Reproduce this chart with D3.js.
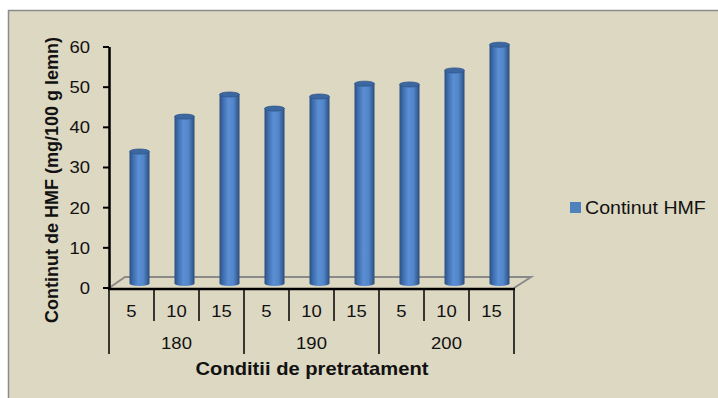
<!DOCTYPE html>
<html>
<head>
<meta charset="utf-8">
<script src="https://cdn.jsdelivr.net/npm/d3@7/dist/d3.min.js"></script>
<style>
  html, body { margin: 0; padding: 0; background: #ffffff; }
  svg { display: block; }
  text { font-family: "Liberation Sans", Arial, sans-serif; fill: #111; }
</style>
</head>
<body>
<svg id="chart" width="718" height="398"></svg>
<script>
// HMF content by pretreatment temperature and time
const temperatures = ["180", "190", "200"];
const times = ["5", "10", "15"];
const hmfValues = [32.6, 41.3, 46.8, 43.3, 46.3, 49.5, 49.3, 52.8, 59.2];
const yTicks = [0, 10, 20, 30, 40, 50, 60];
const seriesName = "Continut HMF";
const yTitle = "Continut de HMF (mg/100 g lemn)";
const xTitle = "Conditii de pretratament";

const categories = [];
temperatures.forEach(t => times.forEach(m => categories.push({ temp: t, time: m })));

const svg = d3.select("#chart");
const W = 718, H = 398;
const sx = 1.12; // horizontal text stretch

// chart area background
svg.append("rect").attr("x", 8).attr("y", 10).attr("width", W - 8).attr("height", H - 10)
  .attr("fill", "#ddd8c2");
svg.append("line").attr("x1", 8).attr("x2", W).attr("y1", 10.5).attr("y2", 10.5)
  .attr("stroke", "#8c8c8c").attr("stroke-width", 1.5);
svg.append("line").attr("x1", 8.5).attr("x2", 8.5).attr("y1", 10).attr("y2", H)
  .attr("stroke", "#8c8c8c").attr("stroke-width", 1.5);

const x0 = 109, x1 = 514;
const x = d3.scaleBand().domain(d3.range(categories.length)).range([x0, x1]).padding(0);
const y = d3.scaleLinear().domain([0, 60]).range([288, 47]);
const depthX = 16, depthY = -11;

// gradient for cylinders
const defs = svg.append("defs");
const grad = defs.append("linearGradient").attr("id", "cyl").attr("x1", "0").attr("x2", "1").attr("y1", "0").attr("y2", "0");
[[0, "#2b4f80"], [0.18, "#3f6eaf"], [0.45, "#5b8fd3"], [0.7, "#5285c9"], [0.88, "#3b659f"], [1, "#294a78"]]
  .forEach(([o, c]) => grad.append("stop").attr("offset", o).attr("stop-color", c));

// floor
const floorPts = [[x0, y(0)], [x0 + depthX, y(0) + depthY], [x1 + depthX + 1, y(0) + depthY], [x1, y(0)]];
svg.append("path").attr("d", d3.line()(floorPts))
  .attr("fill", "none").attr("stroke", "#8a8a8a").attr("stroke-width", 2);

// bars (cylinders)
const bw = 20;
const off = depthX / 2, offY = depthY / 2;
const bars = svg.append("g");
hmfValues.forEach((v, i) => {
  const cx = x(i) + x.bandwidth() / 2 + off;
  const top = y(v) + offY;
  const base = y(0) + offY;
  const g = bars.append("g");
  g.append("ellipse").attr("cx", cx).attr("cy", base + 1).attr("rx", bw / 2).attr("ry", 2.5).attr("fill", "url(#cyl)");
  g.append("rect").attr("x", cx - bw / 2).attr("y", top).attr("width", bw).attr("height", base + 1 - top)
    .attr("fill", "url(#cyl)");
  g.append("ellipse").attr("cx", cx).attr("cy", top).attr("rx", bw / 2).attr("ry", 2.5)
    .attr("fill", "#3c67a0").attr("stroke", "#30568a").attr("stroke-width", 0.8);
});

// y axis
const yAxisG = svg.append("g");
yAxisG.append("line").attr("x1", x0 + 0.5).attr("x2", x0 + 0.5).attr("y1", y(60)).attr("y2", y(0) + 1)
  .attr("stroke", "#000").attr("stroke-width", 2.5);
yTicks.forEach(t => {
  yAxisG.append("line").attr("x1", x0 - 6).attr("x2", x0).attr("y1", y(t)).attr("y2", y(t))
    .attr("stroke", "#000").attr("stroke-width", 2);
  yAxisG.append("text").attr("transform", `translate(90,${y(t)}) scale(${sx},1)`)
    .attr("text-anchor", "end").attr("dy", "0.36em").attr("font-size", 16.5).text(t);
});

// x axis
const xAxisG = svg.append("g");
xAxisG.append("line").attr("x1", x0 - 1).attr("x2", x1 + 1).attr("y1", y(0) + 1).attr("y2", y(0) + 1)
  .attr("stroke", "#000").attr("stroke-width", 2.5);
d3.range(categories.length + 1).forEach(i => {
  const xx = i < categories.length ? x(i) : x1;
  const long = i % times.length === 0;
  xAxisG.append("line").attr("x1", xx).attr("x2", xx).attr("y1", y(0) + 1).attr("y2", long ? 354 : 321)
    .attr("stroke", "#000").attr("stroke-width", 1.5);
});
categories.forEach((c, i) => {
  xAxisG.append("text").attr("transform", `translate(${x(i) + x.bandwidth() / 2},311) scale(${sx},1)`)
    .attr("text-anchor", "middle").attr("dy", "0.36em").attr("font-size", 16.5).text(c.time);
});
temperatures.forEach((t, j) => {
  const cx = (x(j * times.length) + (j === temperatures.length - 1 ? x1 : x((j + 1) * times.length))) / 2;
  xAxisG.append("text").attr("transform", `translate(${cx},343) scale(${sx},1)`)
    .attr("text-anchor", "middle").attr("dy", "0.36em").attr("font-size", 16.5).text(t);
});

// titles
svg.append("text").attr("transform", `translate(312,369) scale(${sx},1)`)
  .attr("text-anchor", "middle").attr("dy", "0.36em").attr("font-size", 18).attr("font-weight", "bold").text(xTitle);
svg.append("text").attr("transform", `translate(52,180) rotate(-90)`)
  .attr("text-anchor", "middle").attr("dy", "0.36em").attr("font-size", 18).attr("font-weight", "bold").text(yTitle);

// legend
svg.append("rect").attr("x", 570).attr("y", 202).attr("width", 11).attr("height", 11).attr("fill", "#4f81bd");
svg.append("text").attr("transform", `translate(585,207.5) scale(${sx},1)`)
  .attr("dy", "0.36em").attr("font-size", 17.5).text(seriesName);
</script>
</body>
</html>
